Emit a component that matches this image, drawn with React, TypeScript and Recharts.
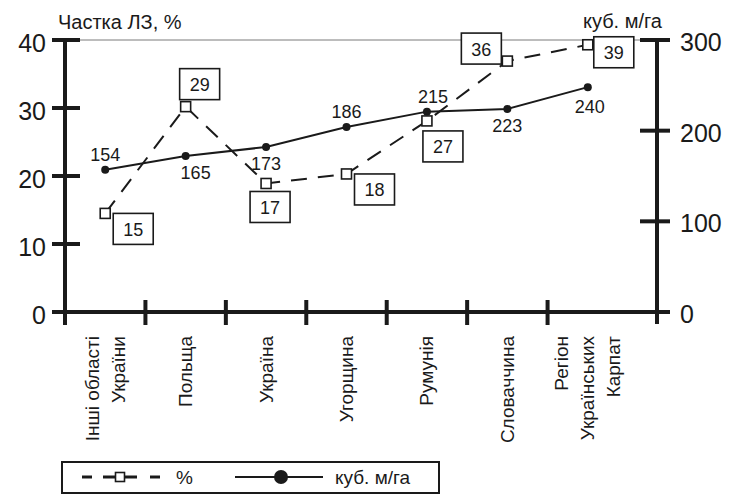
import { Legend, LabelList, Line, LineChart, ReferenceLine, XAxis, YAxis } from "recharts";

// categories, bottom to top reading order of the rotated labels
const categories = [
  "Інші області\nУкраїни",
  "Польща",
  "Україна",
  "Угорщина",
  "Румунія",
  "Словаччина",
  "Регіон\nУкраїнських\nКарпат",
];

// share of ЛЗ, % (left axis): where the squares sit, and the printed numbers
const shareValues = [14.5, 30.2, 18.9, 20.3, 28.1, 36.9, 39.3];
const shareLabels = [15, 29, 17, 18, 27, 36, 39];

// volume, куб. м/га (right axis): where the dots sit, and the printed numbers
const volumeValues = [157, 172, 182, 204, 221, 224, 248];
const volumeLabels = [154, 165, 173, 186, 215, 223, 240];

const shareTicks = [0, 10, 20, 30, 40];
const volumeTicks = [0, 100, 200, 300];

// where each label sits around its point
const shareBoxPlacement = ["rightLow", "above", "belowLeft", "rightLow", "below", "leftAbove", "right"];
const volumeTextPlacement = ["above", "belowRight", "below", "above", "aboveRight", "below", "belowFar"];

const data = categories.map((category, i) => ({
  category,
  share: shareValues[i],
  shareLabel: shareLabels[i],
  volume: volumeValues[i],
  volumeLabel: volumeLabels[i],
}));

const WIDTH = 735;
const HEIGHT = 494;
const INK = "#1a1a1a";
const FONT = '"Liberation Sans", Arial, sans-serif';

const PAD_RIGHT = 29;
const PLOT_WIDTH = 657 - 65;
const BAND = (PLOT_WIDTH - PAD_RIGHT) / categories.length;

const BOX_W = 40;
const BOX_H = 31;
const boxOffsets: Record<string, [number, number]> = {
  rightLow: [8, 0],
  above: [-6, -38],
  belowLeft: [-16, 8],
  below: [-4, 10],
  leftAbove: [-46, -28],
  right: [6, -8],
};
const textOffsets: Record<string, [number, number]> = {
  above: [0, -15],
  belowRight: [10, 17],
  below: [0, 17],
  aboveRight: [6, -15],
  belowFar: [2, 20],
};

function CategoryTick(props: any) {
  const { x, y, payload, index } = props;
  const lines = String(payload.value).split("\n");
  const lineHeight = 26;
  return (
    <g>
      {index === 0 && (
        <line x1={x - BAND / 2} x2={x - BAND / 2} y1={y - 12} y2={y + 13} stroke={INK} strokeWidth={4} />
      )}
      {index < categories.length - 1 && (
        <line x1={x + BAND / 2} x2={x + BAND / 2} y1={y - 12} y2={y + 13} stroke={INK} strokeWidth={4} />
      )}
      {lines.map((line, k) => {
        const lx = x + (k - (lines.length - 1) / 2) * lineHeight;
        const ly = y + 24;
        return (
          <text
            key={k}
            x={lx}
            y={ly}
            transform={`rotate(-90 ${lx} ${ly})`}
            textAnchor="end"
            dominantBaseline="central"
            fontSize={19}
            fontFamily={FONT}
            fill={INK}
          >
            {line}
          </text>
        );
      })}
    </g>
  );
}

function ShareTick(props: any) {
  const { x, y, payload } = props;
  return (
    <g>
      <line x1={x - 13} x2={x + 15} y1={y} y2={y} stroke={INK} strokeWidth={4} />
      {payload.value === 0 && <line x1={x} x2={x} y1={y} y2={y + 12} stroke={INK} strokeWidth={4} />}
      <text
        x={x - 19}
        y={y + 3}
        textAnchor="end"
        dominantBaseline="central"
        fontSize={25}
        fontFamily={FONT}
        fill={INK}
      >
        {payload.value}
      </text>
    </g>
  );
}

function VolumeTick(props: any) {
  const { x, y, payload } = props;
  return (
    <g>
      <line x1={x - 17} x2={x + 13} y1={y} y2={y} stroke={INK} strokeWidth={4} />
      {payload.value === 0 && <line x1={x} x2={x} y1={y} y2={y + 12} stroke={INK} strokeWidth={4} />}
      <text
        x={x + 23}
        y={y + 2}
        textAnchor="start"
        dominantBaseline="central"
        fontSize={25}
        fontFamily={FONT}
        fill={INK}
      >
        {payload.value}
      </text>
    </g>
  );
}

function ShareBox(props: any) {
  const x = props.x ?? props.viewBox?.x;
  const y = props.y ?? props.viewBox?.y;
  const [dx, dy] = boxOffsets[shareBoxPlacement[props.index]] ?? [8, 0];
  const bx = x + dx;
  const by = y + dy;
  return (
    <g>
      <rect x={bx} y={by} width={BOX_W} height={BOX_H} fill="#fff" stroke={INK} strokeWidth={1.6} />
      <text
        x={bx + BOX_W / 2}
        y={by + BOX_H / 2 + 1}
        textAnchor="middle"
        dominantBaseline="central"
        fontSize={18}
        fontFamily={FONT}
        fill={INK}
      >
        {props.value}
      </text>
    </g>
  );
}

function VolumeText(props: any) {
  const x = props.x ?? props.viewBox?.x;
  const y = props.y ?? props.viewBox?.y;
  const [dx, dy] = textOffsets[volumeTextPlacement[props.index]] ?? [0, -15];
  return (
    <text
      x={x + dx}
      y={y + dy}
      textAnchor="middle"
      dominantBaseline="central"
      fontSize={18}
      fontFamily={FONT}
      fill={INK}
    >
      {props.value}
    </text>
  );
}

function SquareDot(props: any) {
  const { cx, cy, index } = props;
  return <rect key={`sq-${index}`} x={cx - 5} y={cy - 5} width={10} height={10} fill="#fff" stroke={INK} strokeWidth={1.6} />;
}

function LegendBox() {
  const cy = 16;
  return (
    <svg width={379} height={33} style={{ display: "block" }}>
      <rect x={1} y={1} width={377} height={31} fill="#fff" stroke={INK} strokeWidth={2} />
      <line x1={21} x2={31} y1={cy} y2={cy} stroke={INK} strokeWidth={3} />
      <line x1={42} x2={76} y1={cy} y2={cy} stroke={INK} strokeWidth={3} />
      <line x1={89} x2={99} y1={cy} y2={cy} stroke={INK} strokeWidth={3} />
      <rect x={54.5} y={cy - 4.5} width={9} height={9} fill="#fff" stroke={INK} strokeWidth={1.6} />
      <text x={115} y={cy} dominantBaseline="central" fontSize={19} fontFamily={FONT} fill={INK}>
        %
      </text>
      <line x1={174} x2={262} y1={cy} y2={cy} stroke={INK} strokeWidth={2} />
      <circle cx={220} cy={cy} r={7} fill={INK} />
      <text x={274} y={cy} dominantBaseline="central" fontSize={19} fontFamily={FONT} fill={INK}>
        куб. м/га
      </text>
    </svg>
  );
}

export default function App() {
  return (
    <div
      style={{
        position: "absolute",
        left: 0,
        top: 0,
        width: WIDTH,
        height: HEIGHT,
        background: "#fff",
        fontFamily: FONT,
      }}
    >
      <LineChart
        width={WIDTH}
        height={HEIGHT}
        data={data}
        margin={{ top: 40, right: 18, bottom: 42, left: 15 }}
      >
        <XAxis
          dataKey="category"
          scale="band"
          padding={{ left: 0, right: PAD_RIGHT }}
          interval={0}
          height={140}
          tickSize={0}
          tickMargin={0}
          tickLine={false}
          axisLine={{ stroke: INK, strokeWidth: 4 }}
          tick={<CategoryTick />}
        />
        <YAxis
          yAxisId="share"
          domain={[0, 40]}
          ticks={shareTicks}
          width={50}
          tickSize={0}
          tickMargin={0}
          tickLine={false}
          axisLine={{ stroke: INK, strokeWidth: 4 }}
          tick={<ShareTick />}
        />
        <YAxis
          yAxisId="volume"
          orientation="right"
          domain={[0, 300]}
          ticks={volumeTicks}
          width={60}
          tickSize={0}
          tickMargin={0}
          tickLine={false}
          axisLine={{ stroke: INK, strokeWidth: 4 }}
          tick={<VolumeTick />}
        />
        <ReferenceLine yAxisId="share" y={40} stroke="#7a7a7a" strokeWidth={1} />

        <Line
          yAxisId="volume"
          dataKey="volume"
          type="linear"
          stroke={INK}
          strokeWidth={2}
          dot={{ r: 4, fill: INK, stroke: INK, strokeWidth: 0 }}
          activeDot={false}
          isAnimationActive={false}
        >
          <LabelList dataKey="volumeLabel" content={<VolumeText />} />
        </Line>
        <Line
          yAxisId="share"
          dataKey="share"
          type="linear"
          stroke={INK}
          strokeWidth={2}
          strokeDasharray="16 11"
          dot={SquareDot}
          activeDot={false}
          isAnimationActive={false}
        >
          <LabelList dataKey="shareLabel" content={<ShareBox />} />
        </Line>

        <Legend
          layout="vertical"
          align="center"
          verticalAlign="middle"
          wrapperStyle={{ left: 61, top: 461, width: 379, height: 33 }}
          content={<LegendBox />}
        />
      </LineChart>

      <div
        style={{
          position: "absolute",
          left: 58,
          top: 12,
          fontSize: 20,
          lineHeight: "20px",
          color: INK,
          whiteSpace: "nowrap",
        }}
      >
        Частка ЛЗ, %
      </div>
      <div
        style={{
          position: "absolute",
          right: WIDTH - 662,
          top: 11,
          fontSize: 20,
          lineHeight: "20px",
          color: INK,
          whiteSpace: "nowrap",
          textAlign: "right",
        }}
      >
        куб. м/га
      </div>
    </div>
  );
}
